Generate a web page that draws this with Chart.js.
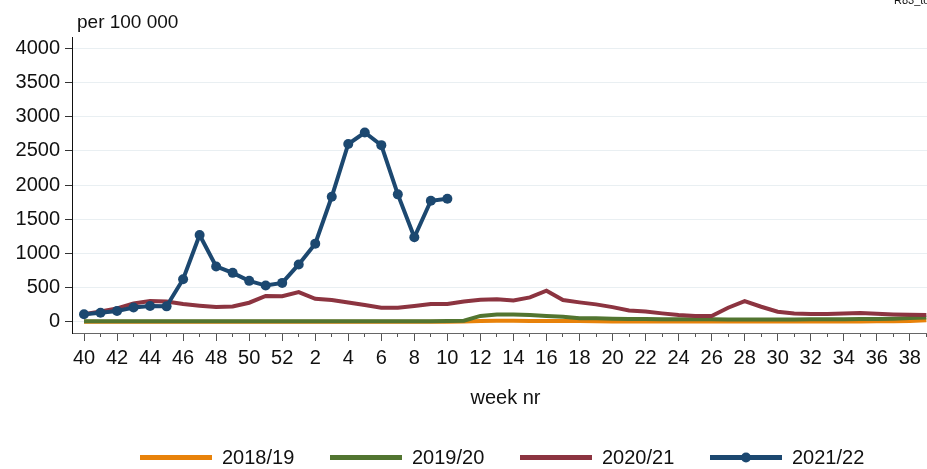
<!DOCTYPE html>
<html>
<head>
<meta charset="utf-8">
<script src="https://cdn.jsdelivr.net/npm/chart.js@4/dist/chart.umd.min.js"></script>
<style>
  body { margin: 0; background: #fff; }
  #wrap { position: relative; width: 927px; height: 469px; }
</style>
</head>
<body>
<div id="wrap"><canvas id="chart"></canvas></div>
<script>
// Week numbers on the x axis (season runs week 40 -> week 39)
const weeks = [40, 41, 42, 43, 44, 45, 46, 47, 48, 49, 50, 51, 52,
  1, 2, 3, 4, 5, 6, 7, 8, 9, 10, 11, 12, 13, 14, 15, 16, 17, 18, 19, 20,
  21, 22, 23, 24, 25, 26, 27, 28, 29, 30, 31, 32, 33, 34, 35, 36, 37, 38, 39];

const yTicks = [0, 500, 1000, 1500, 2000, 2500, 3000, 3500, 4000];

// per 100 000
const season2018 = [0, 0, 0, 0, 0, 0, 0, 0, 0, 0, 0, 0, 0,
  0, 0, 0, 0, 0, 0, 0, 0, 0, 0, 2, 12, 13, 13, 12, 12, 12, 10, 6, 5,
  5, 5, 5, 5, 5, 5, 5, 5, 5, 5, 5, 5, 5, 5, 5, 6, 8, 12, 22];
const season2019 = [8, 8, 8, 8, 8, 8, 8, 8, 8, 8, 8, 8, 8,
  8, 8, 8, 8, 8, 8, 8, 8, 8, 10, 14, 85, 105, 107, 97, 83, 73, 52, 49, 44,
  40, 38, 37, 36, 35, 35, 34, 34, 33, 33, 34, 35, 36, 37, 38, 40, 45, 53, 63];
const season2020 = [110, 150, 195, 268, 302, 297, 258, 234, 214, 224, 278, 376, 372,
  434, 336, 317, 280, 244, 205, 205, 229, 258, 258, 297, 322, 327, 312, 356, 453, 317, 283, 254, 214,
  163, 151, 122, 98, 83, 83, 205, 302, 219, 146, 122, 112, 112, 122, 127, 117, 107, 102, 98];
const season2021 = [110, 131, 156, 207, 229, 225, 622, 1269, 808, 715, 598, 529, 568,
  838, 1142, 1828, 2600, 2768, 2583, 1863, 1235, 1769, 1798];

const seasonLabels = ["2018/19", "2019/20", "2020/21", "2021/22"];
const seasonColors = ["#e8820a", "#527530", "#8c3440", "#1c4870"];

const FONT = "'Liberation Sans', Arial, sans-serif";

function toPoints(values) {
  return values.map((v, i) => ({ x: i, y: v }));
}

function makeDataset(i, values, order, withDots) {
  return {
    label: seasonLabels[i],
    data: toPoints(values),
    borderColor: seasonColors[i],
    backgroundColor: seasonColors[i],
    borderWidth: 4,
    tension: 0,
    pointRadius: withDots ? 5 : 0,
    pointHoverRadius: withDots ? 5 : 0,
    pointBorderWidth: 0,
    order: order,
  };
}

// keep the plot running to the right edge (no room reserved for tick labels)
function noSidePadding(scale) {
  scale.paddingLeft = 0;
  scale.paddingRight = 0;
}

// Legend, axis notes and corner tag drawn on the canvas
const extrasPlugin = {
  id: "extras",
  afterDraw(chart) {
    const ctx = chart.ctx;
    ctx.save();
    ctx.fillStyle = "#111";
    ctx.font = "19px " + FONT;
    ctx.textBaseline = "alphabetic";
    ctx.textAlign = "left";
    ctx.fillText("per 100 000", 77, 28);

    ctx.font = "11px " + FONT;
    ctx.fillText("R83_tot", 894, 4);

    // x axis title
    ctx.font = "20px " + FONT;
    ctx.textAlign = "center";
    ctx.fillText("week nr", 505.5, 404);

    // legend
    const legendY = 457.5;
    ctx.textAlign = "left";
    ctx.textBaseline = "middle";
    seasonLabels.forEach((label, i) => {
      const x0 = 140 + i * 190;
      ctx.strokeStyle = seasonColors[i];
      ctx.lineWidth = 5;
      ctx.beginPath();
      ctx.moveTo(x0, legendY);
      ctx.lineTo(x0 + 72, legendY);
      ctx.stroke();
      if (i === 3) {
        ctx.fillStyle = seasonColors[i];
        ctx.beginPath();
        ctx.arc(x0 + 36, legendY, 5, 0, Math.PI * 2);
        ctx.fill();
      }
      ctx.fillStyle = "#111";
      ctx.fillText(label, x0 + 82, legendY + 1);
    });
    ctx.restore();
  },
};

const ctx = document.getElementById("chart").getContext("2d");
new Chart(ctx, {
  type: "line",
  data: {
    datasets: [
      makeDataset(0, season2018, 3, false),
      makeDataset(1, season2019, 2, false),
      makeDataset(2, season2020, 1, false),
      makeDataset(3, season2021, 0, true),
    ],
  },
  options: {
    responsive: true,
    maintainAspectRatio: false,
    animation: false,
    layout: {
      autoPadding: false,
      padding: { top: 37, left: 0, right: 0, bottom: 56 },
    },
    plugins: {
      legend: { display: false },
      tooltip: { enabled: false },
    },
    scales: {
      x2: {
        type: "linear",
        position: "bottom",
        weight: -1,
        min: -0.727,
        max: 51.04,
        afterBuildTicks: (scale) => {
          scale.ticks = weeks.map((w, i) => ({ value: i })).filter((t) => t.value % 2 === 1);
        },
        afterFit: (scale) => {
          scale.height = 0;
          noSidePadding(scale);
        },
        ticks: { display: false, autoSkip: false },
        grid: { drawOnChartArea: false, drawTicks: true, tickLength: 4, tickColor: "#555" },
        border: { display: false },
      },
      x: {
        type: "linear",
        position: "bottom",
        min: -0.727,
        max: 51.04,
        afterBuildTicks: (scale) => {
          scale.ticks = weeks.map((w, i) => ({ value: i })).filter((t) => t.value % 2 === 0);
        },
        afterFit: (scale) => {
          scale.height = 80;
          noSidePadding(scale);
        },
        ticks: {
          autoSkip: false,
          maxRotation: 0,
          padding: 5,
          color: "#111",
          font: { family: FONT, size: 20 },
          callback: (value) => weeks[value],
        },
        grid: { drawOnChartArea: false, drawTicks: true, tickLength: 8, tickColor: "#555" },
        border: { display: true, color: "#666", width: 1 },
      },
      y: {
        type: "linear",
        min: -165,
        max: 4165,
        afterBuildTicks: (scale) => {
          scale.ticks = yTicks.map((v) => ({ value: v }));
        },
        afterFit: (scale) => { scale.width = 72; },
        ticks: {
          padding: 5,
          color: "#111",
          font: { family: FONT, size: 20 },
          callback: (value) => String(value),
        },
        grid: { color: "#e9eff2", lineWidth: 1, tickLength: 7, tickColor: "#333" },
        border: { display: true, color: "#111", width: 1 },
      },
    },
  },
  plugins: [extrasPlugin],
});
</script>
</body>
</html>
